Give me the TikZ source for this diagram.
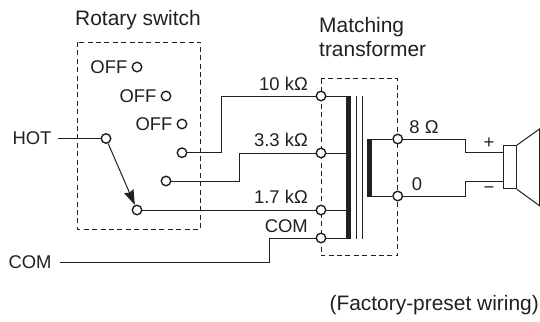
\documentclass[tikz,border=0pt]{standalone}
\usepackage{fontspec}
\setmainfont{Liberation Sans}
\usetikzlibrary{arrows.meta, positioning}

\definecolor{ink}{HTML}{231F20}
\tikzset{term/.style={circle, draw=ink, fill=white, line width=1.4bp, inner sep=0pt, minimum size=9.5bp},
lab/.style={text=ink, inner sep=0pt, font=\fontsize{21}{25}\selectfont},
tag/.style={lab, font=\fontsize{18.5}{22}\selectfont},
wire/.style={draw=ink, line width=1bp},
box/.style={draw=ink, line width=1bp, dash pattern=on 5bp off 3.4bp}}

\begin{document}
\begin{tikzpicture}[x=1bp, y=-1bp, >=stealth]
\useasboundingbox (0,0) rectangle (540,321);

\draw [box] (77.5,42) rectangle (200.5,229);
\draw [box] (321,78.5) rectangle (397.7,255.7);

\coordinate (hotend) at (58,138.5);
\coordinate (comend) at (60,262.5);
\coordinate (turn) at (269.5,262.5);

\node [term] (off1) at (137,67) {};
\node [term] (off2) at (166,96) {};
\node [term] (off3) at (182,124) {};
\node [term] (hot) at (106,138.5) {};
\node [term] (tap1) at (182,152.7) {};
\node [term] (tap2) at (166,181) {};
\node [term] (tap3) at (137,210) {};

\node [term] (pri1) at (321,96) {};
\node [term] (pri2) at (321,153) {};
\node [term] (pri3) at (321,210) {};
\node [term] (pri4) at (321,238) {};
\node [term] (sec1) at (397.7,139) {};
\node [term] (sec2) at (397.7,196) {};

\coordinate (core1) at (347,96);
\coordinate (core2) at (347,153);
\coordinate (core3) at (347,210);
\coordinate (core4) at (347,238);
\coordinate (coil1) at (368,139);
\coordinate (coil2) at (368,196);

\draw [wire] (hotend) -- (hot);
\draw [wire] (tap1) -| (221.7,96) -- (pri1);
\draw [wire] (tap2) -| (239.5,153) -- (pri2);
\draw [wire] (tap3) -- (pri3);
\draw [wire] (comend) -- (turn) |- (pri4);
\draw [wire] (pri1) -- (core1);
\draw [wire] (pri2) -- (core2);
\draw [wire] (pri3) -- (core3);
\draw [wire] (pri4) -- (core4);
\draw [wire] (coil1) -- (sec1);
\draw [wire] (coil2) -- (sec2);
\draw [wire, -{Stealth[length=15bp, width=10bp, inset=1.5bp]}] (hot) -- (tap3);

% transformer
\fill [ink] (346,95.5) rectangle (351,239);
\draw [wire] (356,96) -- (356,239);
\draw [wire] (362,96) -- (362,239);
\fill [ink] (367,138.5) rectangle (372,196.5);

% speaker
\node [draw=ink, line width=1bp, minimum width=13bp, minimum height=43bp, inner sep=0pt] (coil) at (509.8,167.2) {};
\coordinate (cone1) at (539.5,129);
\coordinate (cone2) at (539.5,205.7);
\draw [wire] (sec1) -- (465,139) |- (coil.west |- 0,152.7);
\draw [wire] (sec2) -- (465,196) |- (coil.west |- 0,181.7);
\draw [wire] (coil.north east) -- (cone1) -- (cone2) -- (coil.south east);

\node [lab] (switchlab) at (138,20) {Rotary switch};
\node [lab, align=left, anchor=west] (translab) at (319,37) {Matching\\transformer};
\node [tag] (offa) [left=4bp of off1] {OFF};
\node [tag] (offb) [left=4bp of off2] {OFF};
\node [tag] (offc) [left=4bp of off3] {OFF};
\node [tag] (hotlab) at (32,138) {HOT};
\node [tag] (comlab) at (30,262) {COM};
\node [tag, anchor=east] (tenk) at (308,84) {10 kΩ};
\node [tag, anchor=east] (threek) at (308,140) {3.3 kΩ};
\node [tag, anchor=east] (onek) at (308,197) {1.7 kΩ};
\node [tag, anchor=east] (comtap) at (308,226) {COM};
\node [tag] (eight) at (424,127) {8 Ω};
\node [tag] (zero) at (417,184) {0};
\node [tag] (plus) at (489,143) {+};
\node [tag] (minus) at (489,190) {−};
\node [lab, anchor=east] (note) at (539,305) {(Factory-preset wiring)};
\end{tikzpicture}
\end{document}
